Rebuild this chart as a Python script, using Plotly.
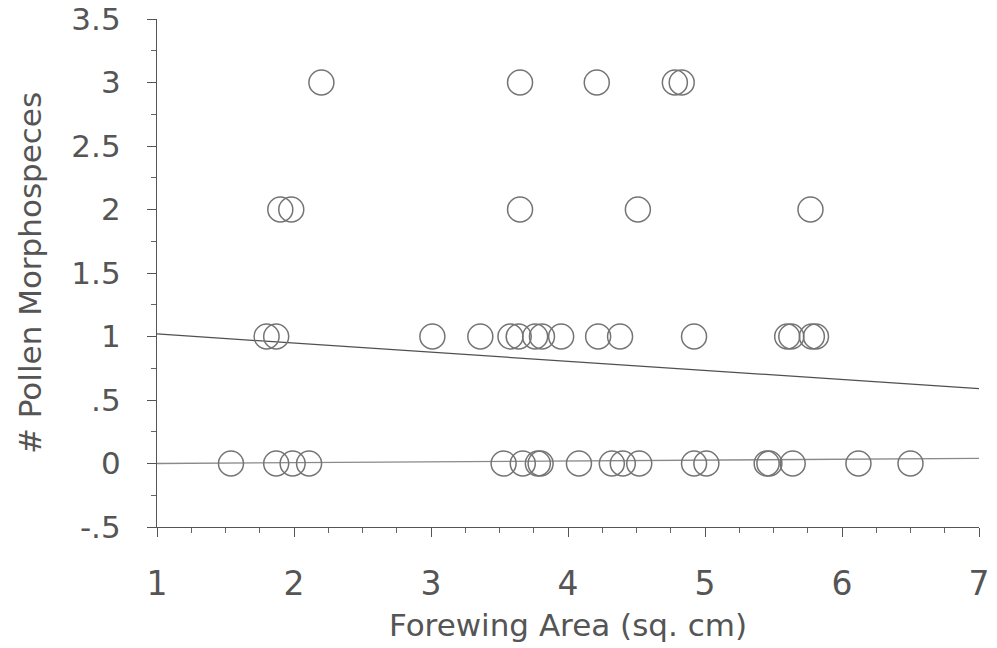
import plotly.graph_objects as go

# Data
x_row3 = [2.20, 3.65, 4.21, 4.78, 4.83]
x_row2 = [1.90, 1.98, 3.65, 4.51, 5.77]
x_row1 = [1.80, 1.87, 3.01, 3.36, 3.58, 3.64, 3.76, 3.81, 3.95, 4.22, 4.38,
          4.92, 5.60, 5.63, 5.78, 5.81]
x_row0 = [1.54, 1.87, 1.99, 2.11, 3.53, 3.67, 3.78, 3.80, 4.08, 4.32, 4.40,
          4.52, 4.92, 5.01, 5.45, 5.47, 5.64, 6.12, 6.50]

pollen_x = x_row3 + x_row2 + x_row1 + x_row0
pollen_y = [3] * len(x_row3) + [2] * len(x_row2) + [1] * len(x_row1) + [0] * len(x_row0)

fit_x = [1, 7]
fit_upper_y = [1.02, 0.59]
fit_lower_y = [0.0, 0.04]

y_tickvals = [-0.5, 0, 0.5, 1, 1.5, 2, 2.5, 3, 3.5]
y_ticktext = ["-.5", "0", ".5", "1", "1.5", "2", "2.5", "3", "3.5"]
x_tickvals = [1, 2, 3, 4, 5, 6, 7]
x_ticktext = ["1", "2", "3", "4", "5", "6", "7"]

fig = go.Figure()
fig.add_trace(go.Scatter(x=fit_x, y=fit_upper_y, mode="lines",
                         line=dict(color="#505050", width=1.3), hoverinfo="skip"))
fig.add_trace(go.Scatter(x=fit_x, y=fit_lower_y, mode="lines",
                         line=dict(color="#8a8a8a", width=1.3), hoverinfo="skip"))
fig.add_trace(go.Scatter(x=pollen_x, y=pollen_y, mode="markers",
                         marker=dict(symbol="circle-open", size=25,
                                     color="#747474", line=dict(width=1.5, color="#747474"))))

font_family = "DejaVu Sans"
fig.update_layout(
    width=997, height=648,
    margin=dict(l=157, r=18, t=19, b=121),
    paper_bgcolor="white", plot_bgcolor="white",
    showlegend=False,
    font=dict(family=font_family, color="#555555"),
)
fig.update_xaxes(
    range=[1, 7], tickvals=x_tickvals, ticktext=x_ticktext, automargin=False,
    showgrid=False, zeroline=False, showline=True, linecolor="#555555", linewidth=1.3,
    ticks="outside", ticklen=9, tickcolor="#555555", tickwidth=1.2,
    minor=dict(dtick=0.25, ticks="outside", ticklen=5, tickcolor="#666666", tickwidth=1),
    tickfont=dict(size=33, color="#555555"), ticklabelstandoff=18,
    ticklabeloverflow="allow",
    title=dict(text="Forewing Area (sq. cm)", font=dict(size=31, color="#555555"), standoff=12),
)
fig.update_yaxes(
    range=[-0.5, 3.5], tickvals=y_tickvals, ticktext=y_ticktext, automargin=False,
    showgrid=False, zeroline=False, showline=True, linecolor="#555555", linewidth=1.3,
    ticks="outside", ticklen=9, tickcolor="#555555", tickwidth=1.2,
    minor=dict(dtick=0.25, ticks="outside", ticklen=5, tickcolor="#666666", tickwidth=1),
    tickfont=dict(size=31, color="#555555"), ticklabelstandoff=20,
    ticklabeloverflow="allow",
    title=dict(text="# Pollen Morphospeces", font=dict(size=31, color="#555555"), standoff=20),
)

# remove the page's default 8px body margin so the figure fills the window exactly
fig.write_html("out.html", config={"displayModeBar": False},
               post_script="document.body.style.margin='0';")
